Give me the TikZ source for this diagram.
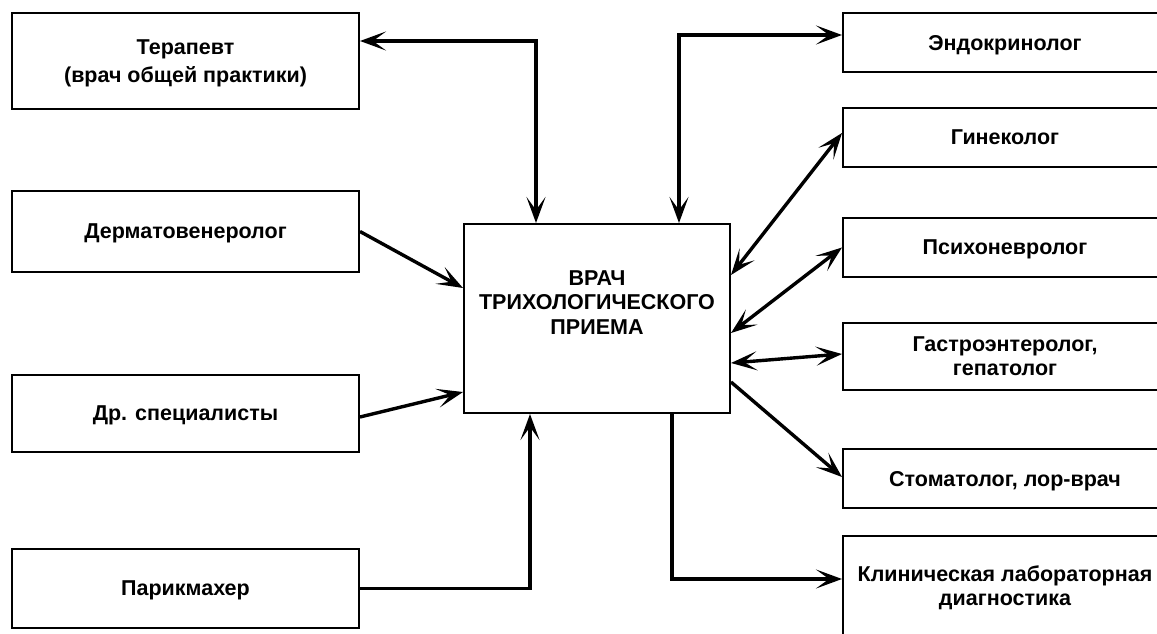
\documentclass[tikz,border=0pt]{standalone}
\usepackage{fontspec}
\setmainfont{Liberation Sans}
\usetikzlibrary{arrows.meta}
\tikzset{
  box/.style={draw, line width=2pt, rectangle, inner sep=0pt, align=center, text depth=0pt,
    font=\fontsize{21.5}{24}\selectfont\bfseries},
  lbox/.style={box, minimum width=347pt},
  rbox/.style={box, minimum width=324pt},
  tip/.tip={Stealth[length=26pt,width=19pt,inset=13pt]},
  conn/.style={line width=3.4pt, arrows={-tip}},
  conn2/.style={line width=3.4pt, arrows={tip-tip}},
  lbl/.style={align=center, inner sep=0pt, font=\fontsize{21.5}{24.5}\selectfont\bfseries}
}
\begin{document}
\begin{tikzpicture}[x=1pt,y=-1pt]
\useasboundingbox (0,0) rectangle (1157,634);
\clip (0,0) rectangle (1157,634);
\fill[white] (0,0) rectangle (1157,634);
% left column
\node[lbox, minimum height=96pt, font=\fontsize{21.5}{27.5}\selectfont\bfseries] (ter) at (185.5,61) {Терапевт\\(врач общей практики)};
\node[lbox, minimum height=81pt] (derm) at (185.5,231.5) {Дерматовенеролог};
\node[lbox, minimum height=77pt] (dr) at (185.5,413.5) {Др. специалисты};
\node[lbox, minimum height=79pt] (par) at (185.5,588.5) {Парикмахер};
% center
\node[box, minimum width=266pt, minimum height=189pt] (doc) at (597,318.5) {};
\node[lbl] (doctxt) at (597,302.5) {ВРАЧ\\ТРИХОЛОГИЧЕСКОГО\\ПРИЕМА};
% right column
\node[rbox, minimum height=59pt] (endo) at (1005,42.5) {Эндокринолог};
\node[rbox, minimum height=59pt] (gyn) at (1005,137.5) {Гинеколог};
\node[rbox, minimum height=59pt] (psy) at (1005,247.5) {Психоневролог};
\node[rbox, minimum height=67pt] (gas) at (1005,356.5) {Гастроэнтеролог,\\гепатолог};
\node[rbox, minimum height=59pt] (sto) at (1005,478.5) {Стоматолог, лор-врач};
\node[rbox, minimum height=99pt] (lab) at (1005,585.5) {Клиническая лабораторная\\диагностика};
% bend points
\coordinate (t1) at (536,41);
\coordinate (e1) at (679,35);
% connectors
\draw[conn2] (ter.east |- t1) -- (t1) -- (t1 |- doc.north);
\draw[conn2] (endo.west |- e1) -- (e1) -- (e1 |- doc.north);
\draw[conn] (derm.east) -- ([yshift=30.5pt]doc.west);
\draw[conn] ([yshift=-3.5pt]dr.east) -- ([yshift=-73.5pt]doc.west);
\draw[conn] (par.east) -| ([xshift=-67pt]doc.south);
\draw[conn2] ([yshift=43.5pt]doc.east) -- ([yshift=4.5pt]gyn.west);
\draw[conn2] ([yshift=-14.5pt]doc.east) -- (psy.west);
\draw[conn2] ([yshift=-44.5pt]doc.east) -- ([yshift=2.5pt]gas.west);
\draw[conn] ([yshift=-63.5pt]doc.east) -- ([yshift=1.5pt]sto.west);
\draw[conn] ([xshift=75pt]doc.south) |- ([yshift=6.5pt]lab.west);
\end{tikzpicture}
\end{document}
